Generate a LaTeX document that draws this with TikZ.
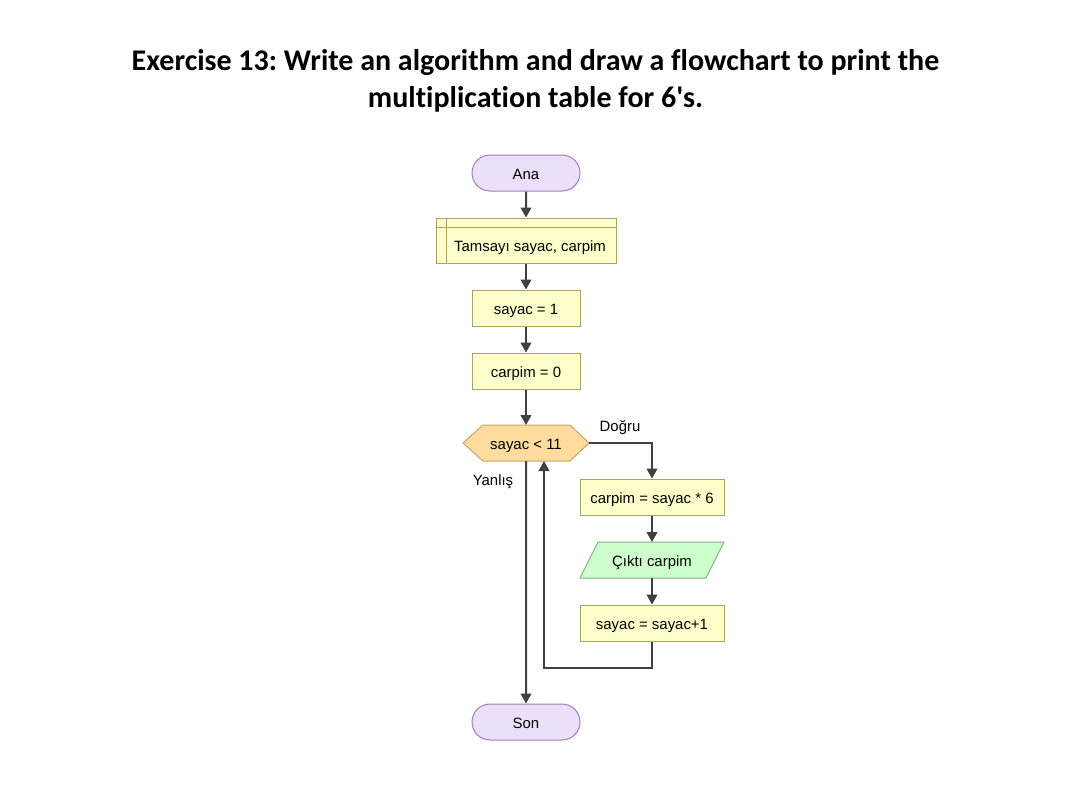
\documentclass[tikz,border=0pt]{standalone}
\usepackage{fontspec}
\setmainfont{Liberation Sans}
\newfontfamily\titlefont[Ligatures=NoCommon]{Carlito}
\newfontfamily\chartfont{Liberation Sans}
\usetikzlibrary{arrows.meta,shapes.misc,shapes.geometric}
\definecolor{termfill}{HTML}{EBDFFB}
\definecolor{termdraw}{HTML}{9C82B4}
\definecolor{procfill}{HTML}{FFFFCC}
\definecolor{procdraw}{HTML}{A8A468}
\definecolor{decfill}{HTML}{FDDC9E}
\definecolor{decdraw}{HTML}{C8A46A}
\definecolor{iofill}{HTML}{CCFFCC}
\definecolor{iodraw}{HTML}{86B486}
\definecolor{linec}{HTML}{404040}
\tikzset{
  x=0.75pt, y=-0.75pt,
  txt/.style={font=\chartfont\fontsize{11.2pt}{13pt}\selectfont, text=black, text height=10.2pt, text depth=0pt},
  term/.style={txt, rounded rectangle, draw=termdraw, fill=termfill, line width=0.75pt, minimum width=108*0.75pt, minimum height=36*0.75pt, inner sep=0pt},
  proc/.style={txt, rectangle, draw=procdraw, fill=procfill, line width=0.75pt, minimum height=36*0.75pt, inner sep=0pt},
  flow/.style={draw=linec, line width=1.5pt, -{Triangle[length=7.5pt,width=8pt]}},
  lbl/.style={txt}
}
\begin{document}
\frenchspacing
\begin{tikzpicture}
\useasboundingbox (0,0) rectangle (1087,797);
\fill[white] (0,0) rectangle (1087,797);
% title
\node[font=\titlefont\bfseries\fontsize{22.5pt}{27.75pt}\selectfont, align=center] (title) at (535.5,80.5)
  {Exercise 13: Write an algorithm and draw a flowchart to print the\\multiplication table for 6's.};
% nodes
\node[term] (ana) at (526,173) {Ana};
\node[proc, minimum width=180*0.75pt, minimum height=45*0.75pt] (decl) at (526,240.5) {};
\draw[procdraw, line width=0.75pt] (446,218) -- (446,263) (436,227) -- (616,227);
\node[txt] (decltxt) at (530,245) {Tamsayı sayac, carpim};
\node[proc, minimum width=108*0.75pt] (s1) at (526,308) {sayac = 1};
\node[proc, minimum width=108*0.75pt] (c0) at (526,371) {carpim = 0};
\path[draw=decdraw, fill=decfill, line width=0.75pt] (463,443) -- (483,425) -- (570,425) -- (589,443) -- (570,461) -- (483,461) -- cycle;
\coordinate (decW) at (463,443);
\coordinate (decE) at (589,443);
\coordinate (decN) at (526,425);
\coordinate (decS) at (526,461);
\node[txt] (dec) at (526,443) {sayac < 11};
\node[proc, minimum width=144*0.75pt] (mul) at (652,497) {carpim = sayac * 6};
\path[draw=iodraw, fill=iofill, line width=0.75pt] (598,542) -- (724,542) -- (706,578) -- (580,578) -- cycle;
\node[txt] (out) at (652,559.5) {Çıktı carpim};
\coordinate (outN) at (652,542);
\coordinate (outS) at (652,578);
\node[proc, minimum width=144*0.75pt] (inc) at (652,623) {sayac = sayac+1};
\node[term] (son) at (526,722) {Son};
% labels
\node[lbl] (dogru) at (620,424.2) {Doğru};
\node[lbl] (yanlis) at (493,478.2) {Yanlış};
% connectors
\draw[flow] (ana) -- (decl);
\draw[flow] (decl) -- (s1);
\draw[flow] (s1) -- (c0);
\draw[flow] (c0) -- (decN);
\draw[flow] (decE) -| (mul);
\draw[flow] (mul) -- (outN);
\draw[flow] (outS) -- (inc);
\coordinate (loopR) at (652,668);
\coordinate (loopL) at (544,668);
\coordinate (loopT) at (544,461);
\draw[flow] (inc) -- (loopR) -- (loopL) -- (loopT);
\draw[flow] (decS) -- (son);
\end{tikzpicture}
\end{document}
